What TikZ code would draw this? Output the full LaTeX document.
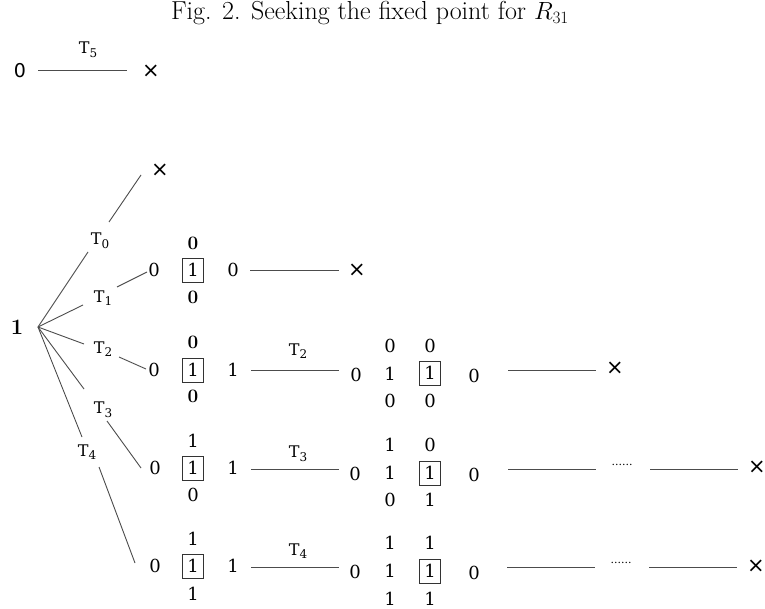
\documentclass[tikz,border=0pt]{standalone}
\usepackage{fontspec}
\newfontfamily\dvserif{DejaVu Serif}
\newfontfamily\dvsans{DejaVu Sans}
\newcommand{\tsub}[1]{T\raisebox{-3.5pt}{\fontsize{12}{14}\selectfont #1}}
\begin{document}
\begin{tikzpicture}[x=1pt,y=-1pt,
  ln/.style={draw=black!70, line width=0.9pt},
  dg/.style={inner sep=0pt, font=\dvserif\fontsize{18}{21}\selectfont},
  bd/.style={inner sep=0pt, font=\fontsize{19}{22}\selectfont\bfseries},
  bx/.style={dg, draw=black!80, line width=0.8pt, minimum width=21pt, minimum height=24pt},
  tl/.style={inner sep=0pt, font=\dvserif\fontsize{16}{19}\selectfont},
  cr/.style={inner sep=0pt, font=\dvsans\fontsize{21}{24}\selectfont},
  dt/.style={inner sep=0pt, font=\dvserif\fontsize{11}{13}\selectfont}]
\useasboundingbox (0,0) rectangle (765,609);
% title
\node[inner sep=0pt, font=\fontsize{26}{30}\selectfont] (title) at (370,13) {Fig. 2. Seeking the fixed point for $R_{31}$};
% top line
\node[inner sep=0pt, font=\dvsans\fontsize{19}{22}\selectfont] (z0) at (20,71) {0};
\node[tl] (t5) at (88,50) {\tsub{5}};
\node[cr] (x5) at (151,71) {×};
\coordinate (l5a) at (38,70); \coordinate (l5b) at (127,70);
\draw[ln] (l5a) -- (l5b);
% root
\node[inner sep=0pt, font=\fontsize{22}{26}\selectfont\bfseries] (root) at (17,327) {1};
\coordinate (o) at (38,327);
% branch T0
\node[tl] (t0) at (100,241) {\tsub{0}};
\node[cr] (x0) at (160,170) {×};
\coordinate (b0a) at (88,252); \coordinate (b0b) at (109,222); \coordinate (b0c) at (141,175);
\draw[ln] (o) -- (b0a);
\draw[ln] (b0b) -- (b0c);
% branch T1
\node[tl] (t1) at (103,298) {\tsub{1}};
\coordinate (b1a) at (83,305); \coordinate (b1b) at (117,287); \coordinate (b1c) at (147,272);
\draw[ln] (o) -- (b1a);
\draw[ln] (b1b) -- (b1c);
\node[dg] (r1a) at (154,270) {0};
\node[bx] (r1box) at (193,270) {1};
\node[bd] (r1u) at (193,243) {0};
\node[bd] (r1d) at (193,297) {0};
\node[dg] (r1b) at (233,270) {0};
\node[cr] (x1) at (357,270) {×};
\coordinate (h1a) at (250,270); \coordinate (h1b) at (339,270);
\draw[ln] (h1a) -- (h1b);
% branch T2
\node[tl] (t2) at (103,349) {\tsub{2}};
\coordinate (b2a) at (84,344); \coordinate (b2b) at (119,357); \coordinate (b2c) at (146,369);
\draw[ln] (o) -- (b2a);
\draw[ln] (b2b) -- (b2c);
\node[dg] (r2a) at (154,370) {0};
\node[bx] (r2box) at (193,370) {1};
\node[bd] (r2u) at (193,342) {0};
\node[bd] (r2d) at (193,396) {0};
\node[dg] (r2b) at (233,370) {1};
\node[tl] (t2b) at (298,351) {\tsub{2}};
\coordinate (h2a) at (251,370); \coordinate (h2b) at (339,370);
\draw[ln] (h2a) -- (h2b);
\node[dg] (r2c) at (356,375) {0};
\node[dg] (r2c1) at (390,346) {0};
\node[dg] (r2c2) at (390,374) {1};
\node[dg] (r2c3) at (390,401) {0};
\node[dg] (r2d1) at (430,346) {0};
\node[bx] (r2dbox) at (430,373) {1};
\node[dg] (r2d3) at (430,401) {0};
\node[dg] (r2e) at (474,376) {0};
\coordinate (h2c) at (508,370); \coordinate (h2d) at (596,370);
\draw[ln] (h2c) -- (h2d);
\node[cr] (x2) at (615,368) {×};
% branch T3
\node[tl] (t3) at (103,410) {\tsub{3}};
\coordinate (b3a) at (84,389); \coordinate (b3b) at (107,421); \coordinate (b3c) at (141,468);
\draw[ln] (o) -- (b3a);
\draw[ln] (b3b) -- (b3c);
\node[dg] (r3a) at (155,468) {0};
\node[bx] (r3box) at (193,468) {1};
\node[dg] (r3u) at (193,441) {1};
\node[dg] (r3d) at (193,495) {0};
\node[dg] (r3b) at (233,468) {1};
\node[tl] (t3b) at (298,454) {\tsub{3}};
\coordinate (h3a) at (251,469); \coordinate (h3b) at (339,469);
\draw[ln] (h3a) -- (h3b);
\node[dg] (r3c) at (355,474) {0};
\node[dg] (r3c1) at (390,445) {1};
\node[dg] (r3c2) at (390,473) {1};
\node[dg] (r3c3) at (390,500) {0};
\node[dg] (r3d1) at (430,445) {0};
\node[bx] (r3dbox) at (430,473) {1};
\node[dg] (r3d3) at (430,500) {1};
\node[dg] (r3e) at (474,475) {0};
\coordinate (h3c) at (508,469); \coordinate (h3d) at (596,469);
\draw[ln] (h3c) -- (h3d);
\node[dt] (d3) at (622,465) {......};
\coordinate (h3e) at (650,469); \coordinate (h3f) at (738,469);
\draw[ln] (h3e) -- (h3f);
\node[cr] (x3) at (757,467) {×};
% branch T4
\node[tl] (t4) at (87,452) {\tsub{4}};
\coordinate (b4a) at (82,437); \coordinate (b4b) at (99,467); \coordinate (b4c) at (135,563);
\draw[ln] (o) -- (b4a);
\draw[ln] (b4b) -- (b4c);
\node[dg] (r4a) at (155,566) {0};
\node[bx] (r4box) at (193,566) {1};
\node[dg] (r4u) at (193,539) {1};
\node[dg] (r4d) at (193,594) {1};
\node[dg] (r4b) at (233,566) {1};
\node[tl] (t4b) at (298,551) {\tsub{4}};
\coordinate (h4a) at (251,567); \coordinate (h4b) at (339,567);
\draw[ln] (h4a) -- (h4b);
\node[dg] (r4c) at (355,572) {0};
\node[dg] (r4c1) at (390,543) {1};
\node[dg] (r4c2) at (390,571) {1};
\node[dg] (r4c3) at (390,599) {1};
\node[dg] (r4d1) at (430,543) {1};
\node[bx] (r4dbox) at (430,571) {1};
\node[dg] (r4d3) at (430,599) {1};
\node[dg] (r4e) at (474,573) {0};
\coordinate (h4c) at (507,567); \coordinate (h4d) at (595,567);
\draw[ln] (h4c) -- (h4d);
\node[dt] (d4) at (621,563) {......};
\coordinate (h4e) at (649,567); \coordinate (h4f) at (737,567);
\draw[ln] (h4e) -- (h4f);
\node[cr] (x4) at (756,566) {×};
\end{tikzpicture}
\end{document}
